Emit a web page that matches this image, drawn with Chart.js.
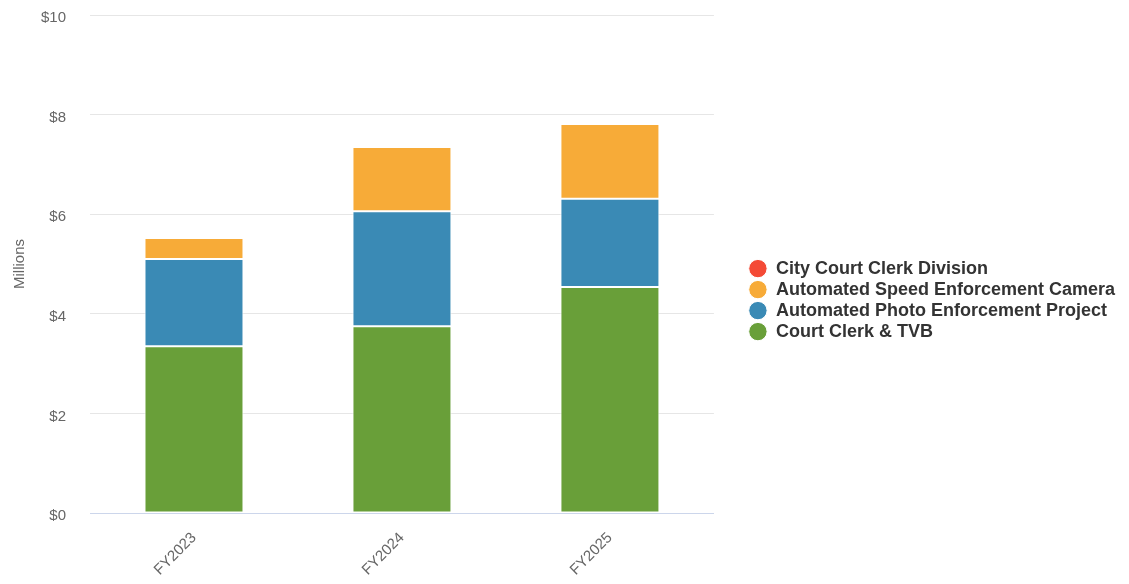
<!DOCTYPE html>
<html>
<head>
<meta charset="utf-8">
<script src="https://cdn.jsdelivr.net/npm/chart.js@4/dist/chart.umd.min.js"></script>
<style>
html,body{margin:0;padding:0;background:#fff;}
#wrap{width:1129px;height:584px;position:relative;}
</style>
</head>
<body>
<div id="wrap"><canvas id="c" width="1129" height="584"></canvas></div>
<script>
const categories = ["FY2023", "FY2024", "FY2025"];
const courtClerkTVB = [3.35, 3.75, 4.54];
const photoEnforcement = [1.75, 2.31, 1.77];
const speedCamera = [0.42, 1.29, 1.50];
const cityCourtClerk = [0, 0, 0];
const yTicks = [0, 2, 4, 6, 8, 10];

const font = "'Liberation Sans', Arial, Helvetica, sans-serif";

const shiftYLabels = {
  id: 'shiftYLabels',
  beforeDraw(chart) {
    const s = chart.scales.y;
    const items = s.getLabelItems(chart.chartArea);
    if (!s._shifted) {
      items.forEach(it => { it.options.translation[1] += 3; });
      s._shifted = true;
    }
  }
};

new Chart(document.getElementById('c'), {
  type: 'bar',
  data: {
    labels: categories,
    datasets: [
      {label: 'Court Clerk & TVB', data: courtClerkTVB, backgroundColor: '#699F39'},
      {label: 'Automated Photo Enforcement Project', data: photoEnforcement, backgroundColor: '#3A8AB5'},
      {label: 'Automated Speed Enforcement Camera', data: speedCamera, backgroundColor: '#F7AB38'},
      {label: 'City Court Clerk Division', data: cityCourtClerk, backgroundColor: '#F44A36'}
    ].map(d => Object.assign(d, {borderColor: '#ffffff', borderWidth: 1, borderSkipped: false, categoryPercentage: 1, barPercentage: 0.476}))
  },
  plugins: [shiftYLabels],
  options: {
    responsive: false,
    animation: false,
    layout: {padding: {left: 11, right: 4, top: 0, bottom: 0}},
    plugins: {
      tooltip: {enabled: false},
      legend: {
        position: 'right',
        align: 'center',
        reverse: true,
        maxWidth: 420,
        title: {display: true, text: '', font: {size: 1}, padding: {top: 15, bottom: 0}},
        labels: {
          usePointStyle: true,
          pointStyle: 'circle',
          boxWidth: 18,
          boxHeight: 13,
          padding: 3,
          color: '#333333',
          font: {family: font, size: 18, weight: 'bold'}
        }
      }
    },
    scales: {
      x: {
        stacked: true,
        grid: {display: false, drawTicks: false},
        border: {display: true, color: '#ccd6eb', width: 1},
        ticks: {
          color: '#666666',
          font: {family: font, size: 15},
          minRotation: 45,
          maxRotation: 45,
          padding: 16
        },
        afterFit: (s) => { s.height = 71; s.paddingLeft = 0; s.paddingRight = 0; }
      },
      y: {
        stacked: true,
        min: 0,
        max: 10,
        afterBuildTicks: (axis) => { axis.ticks = yTicks.map(v => ({value: v})); },
        grid: {color: '#e6e6e6', drawTicks: false},
        border: {display: false},
        ticks: {
          color: '#666666',
          font: {family: font, size: 15},
          padding: 24,
          callback: (v) => '$' + v
        },
        title: {
          display: true,
          text: 'Millions',
          color: '#666666',
          font: {family: font, size: 15},
          padding: {top: 0, bottom: 12}
        },
        afterFit: (s) => { s.width = 79; s.paddingTop = 15; s.paddingBottom = 9; }
      },
      y2: {
        type: 'linear',
        position: 'right',
        display: true,
        grid: {display: false, drawTicks: false},
        border: {display: false},
        ticks: {display: false},
        afterFit: (s) => { s.width = 32; s.paddingTop = 0; s.paddingBottom = 0; }
      }
    }
  }
});
</script>
</body>
</html>
